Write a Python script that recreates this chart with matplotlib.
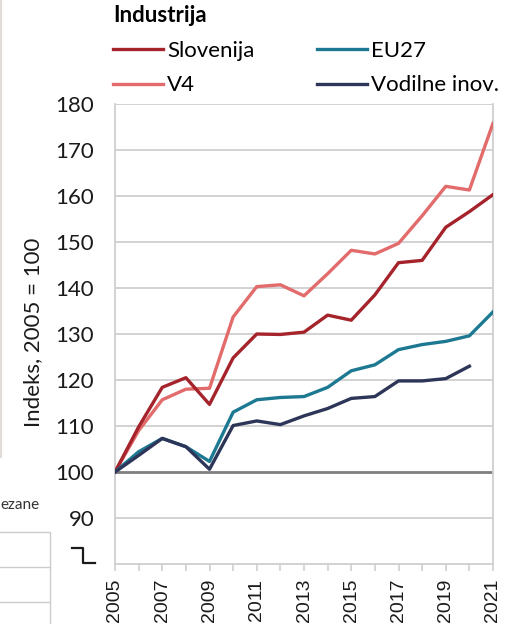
import matplotlib.pyplot as plt
from matplotlib.lines import Line2D

plt.rcParams['font.family'] = ['Lato', 'DejaVu Sans']

years = list(range(2005, 2022))
slovenija = [100, 109.8, 118.4, 120.5, 114.7, 124.8, 130.0, 129.9, 130.4, 134.1,
             133.0, 138.5, 145.5, 146.0, 153.2, 156.6, 160.3]
v4 = [100, 109.0, 115.7, 118.0, 118.2, 133.7, 140.3, 140.7, 138.3, 143.1,
      148.2, 147.4, 149.7, 155.7, 162.1, 161.3, 175.8]
eu27 = [100, 104.4, 107.3, 105.5, 102.3, 113.0, 115.7, 116.2, 116.4, 118.4,
        122.0, 123.3, 126.6, 127.7, 128.4, 129.6, 134.8]
vodilne = [100, 103.6, 107.3, 105.5, 100.6, 110.1, 111.1, 110.3, 112.2, 113.8,
           116.0, 116.4, 119.8, 119.8, 120.3, 123.0]

W, H = 506, 624
fig = plt.figure(figsize=(W / 100, H / 100), dpi=100)
ax = fig.add_axes([115 / W, 1 - 564 / H, (493 - 115) / W, (564 - 104) / H])

grid_c = '#cfcfcf'
for v in range(90, 190, 10):
    if v != 100:
        ax.axhline(v, color=grid_c, lw=1.3, zorder=1)
ax.axhline(100, color='#7f7f7f', lw=2.0, zorder=2)

ax.plot(years, slovenija, color='#a5232b', lw=2.4, label='Slovenija', zorder=4)
ax.plot(years[:len(v4)], v4, color='#e26b6b', lw=2.4, label='V4', zorder=3)
ax.plot(years, eu27, color='#1d7891', lw=2.4, label='EU27', zorder=4)
ax.plot(years[:len(vodilne)], vodilne, color='#2d3658', lw=2.4, label='Vodilne inov.', zorder=5)

ax.set_xlim(2005, 2021)
ax.set_ylim(80, 180)
ax.set_yticks(range(90, 190, 10))
ax.set_yticklabels([str(v) for v in range(90, 190, 10)], fontsize=16, color='#1a1a1a')
ax.set_xticks(years)
ax.set_xticklabels([str(y) if y % 2 == 1 else '' for y in years], rotation=90,
                   fontsize=14, family='Liberation Sans', color='#1a1a1a')
ax.tick_params(axis='y', length=0, pad=15)
ax.tick_params(axis='x', direction='out', length=5, width=1.2, color=grid_c, pad=5.5)
for s in ['left', 'right', 'top', 'bottom']:
    ax.spines[s].set_color(grid_c)
    ax.spines[s].set_linewidth(1.3)
ax.spines['top'].set_visible(False)

fig.text(33 / W, 1 - 332 / H, 'Indeks, 2005 = 100', rotation=90, ha='center', va='center',
         fontsize=16, color='#1a1a1a')

handles, labels = ax.get_legend_handles_labels()
leg = ax.legend(handles, labels, ncol=2,
                loc='upper left', bbox_to_anchor=(113 / W, 1 - 5 / H), bbox_transform=fig.transFigure,
                frameon=False, fontsize=16, handlelength=2.25, handletextpad=0.18,
                columnspacing=2.8, labelspacing=0.66, borderaxespad=0, borderpad=0,
                title='Industrija', title_fontproperties={'weight': 'bold', 'size': 16},
                alignment='left')

# axis break mark
def fig_line(xs, ys, **kw):
    fig.add_artist(Line2D([x / W for x in xs], [1 - y / H for y in ys],
                          transform=fig.transFigure, **kw))

fig_line([72, 83, 83, 95], [548, 548, 563, 563], color='#1a1a1a', lw=1.6)

# remnants of neighbouring panel on the left
edge_c = '#e2dcd8'
fig_line([1.5, 1.5], [0, 457], color=edge_c, lw=1.5)
fig.text(0, 1 - 505 / H, 'ezane', fontsize=11, ha='left', va='center', color='#333333')
tab_c = '#cccccc'
fig_line([0, 50, 50], [532, 532, 624], color=tab_c, lw=1.0)
for y in [567, 602]:
    fig_line([0, 50], [y, y], color=tab_c, lw=1.0)

fig.savefig('out.png', dpi=100)
